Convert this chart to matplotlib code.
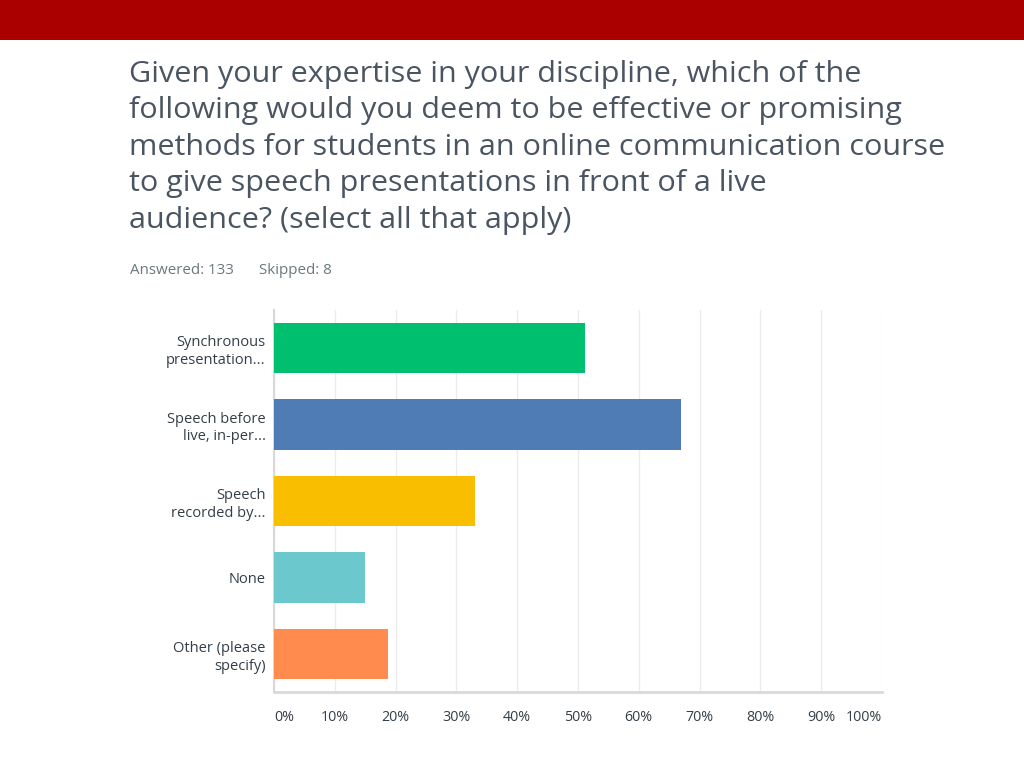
import matplotlib
matplotlib.use("Agg")
import matplotlib.pyplot as plt
from matplotlib.patches import Rectangle

plt.rcParams['font.family'] = ['Open Sans', 'DejaVu Sans']

# survey answers (share of respondents, %)
choices = ["Synchronous\npresentation...", "Speech before\nlive, in-per...",
           "Speech\nrecorded by...", "None", "Other (please\nspecify)"]
percents = [51.13, 66.92, 33.08, 15.04, 18.80]
bar_colors = ["#00bf6f", "#507cb6", "#f9be00", "#6bc8cd", "#ff8b4f"]
tick_vals = [0, 10, 20, 30, 40, 50, 60, 70, 80, 90, 100]
tick_labels = [str(t) + "%" for t in tick_vals]

question = ("Given your expertise in your discipline, which of the\n"
            "following would you deem to be effective or promising\n"
            "methods for students in an online communication course\n"
            "to give speech presentations in front of a live\n"
            "audience? (select all that apply)")
answered = 133
skipped = 8

fig = plt.figure(figsize=(10.24, 7.68), dpi=100)
W, H = 1024, 768

# red banner on top
fig.patches.append(Rectangle((0, 1 - 40 / H), 1, 40 / H, transform=fig.transFigure,
                             facecolor="#aa0000", edgecolor="none"))

# question text
fig.text(129 / W, 1 - 60 / H, question, ha="left", va="top", fontsize=21.95,
         color="#4b5561", linespacing=1.34)
fig.text(130 / W, 1 - 270 / H, "Answered: " + str(answered), ha="left", va="center",
         fontsize=10.9, color="#6b787f")
fig.text(259 / W, 1 - 270 / H, "Skipped: " + str(skipped), ha="left", va="center",
         fontsize=10.9, color="#6b787f")

ax = fig.add_axes([274 / W, 1 - 692 / H, (882 - 274) / W, (692 - 310) / H])
ypos = list(range(len(choices)))
ax.barh(ypos, percents, height=0.66, color=bar_colors, zorder=3)
ax.set_ylim(len(choices) - 0.5, -0.5)
ax.set_xlim(0, 100)

ax.set_yticks(ypos)
ax.set_yticklabels(choices, fontsize=10.5, color="#333e48", linespacing=1.25)
ax.set_xticks(tick_vals)
ax.set_xticklabels(tick_labels, fontsize=10.3, color="#333e48")
labels = ax.get_xticklabels()
labels[0].set_ha("left")
labels[-1].set_ha("right")
ax.tick_params(axis="both", length=0)
ax.tick_params(axis="x", pad=13)
ax.tick_params(axis="y", pad=6)

ax.grid(axis="x", color="#ececec", linewidth=1, zorder=0)
for side in ["top", "right"]:
    ax.spines[side].set_visible(False)
ax.spines["left"].set_color("#d9d9d9")
ax.spines["left"].set_linewidth(1.5)
ax.spines["bottom"].set_color("#d9d9d9")
ax.spines["bottom"].set_linewidth(2)

fig.savefig("out.png", dpi=100)
